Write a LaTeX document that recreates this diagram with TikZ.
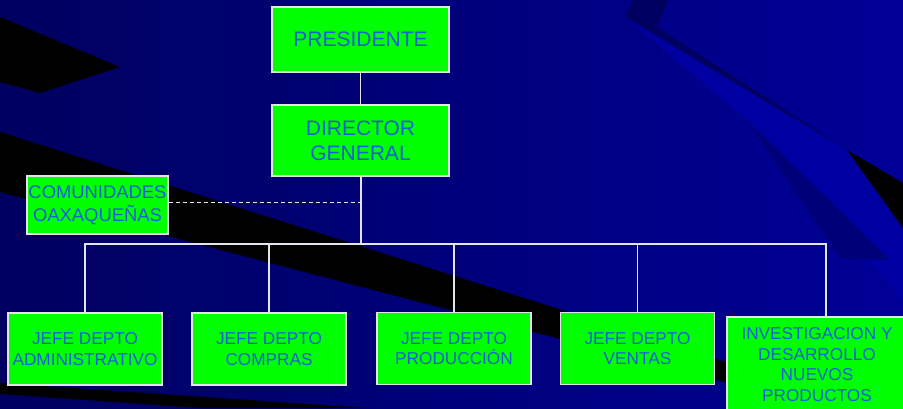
\documentclass[tikz,border=0pt]{standalone}
\usepackage{fontspec}
\setmainfont{Liberation Sans}
\definecolor{bgL}{RGB}{0,0,96}
\definecolor{bgR}{RGB}{0,0,150}
\definecolor{beam}{RGB}{0,0,162}
\definecolor{darkstrip}{RGB}{0,0,96}
\definecolor{wedge}{RGB}{0,0,120}
\definecolor{boxgreen}{RGB}{0,255,0}
\definecolor{txt}{RGB}{25,95,215}
\definecolor{edge}{RGB}{228,228,236}
\tikzset{
  box/.style={draw=edge, line width=1.3pt, fill=boxgreen, text=txt, align=center, inner sep=0pt},
  bigbox/.style={box, font=\fontsize{21}{25}\selectfont},
  combox/.style={box, font=\fontsize{18.4}{23}\selectfont},
  smallbox/.style={box, font=\fontsize{17.2}{20.5}\selectfont, minimum width=154pt, minimum height=72pt},
  conn/.style={draw=edge, line width=1.2pt},
}
\begin{document}
\begin{tikzpicture}[x=1pt,y=-1pt]
\useasboundingbox (0,0) rectangle (903,408);
\clip (0,0) rectangle (903,408);
% background
\fill[left color=bgL, right color=bgR] (0,0) rectangle (903,408);
\fill[beam] (625,17) -- (847,150) -- (903,230) -- (903,300) -- (747,120) -- cycle;
\fill[wedge] (747,120) -- (890,260) -- (840,258) -- cycle;
\fill[darkstrip] (625,17) -- (633,0) -- (668,0) -- (657,27) -- (847,150) -- cycle;
\fill[black] (847,150) -- (903,183) -- (903,228) -- cycle;
\fill[black] (0,17) -- (120,67) -- (40,93) -- (0,82) -- cycle;
\fill[black] (0,132) -- (903,418) -- (903,429) -- (0,192) -- cycle;
\fill[black] (0,383) -- (367,408) -- (200,408) -- (0,394) -- cycle;
% nodes
\node[bigbox, minimum width=177pt, minimum height=65pt] (pres) at (360.5,39.5) {PRESIDENTE};
\node[bigbox, minimum width=177pt, minimum height=71pt] (dir) at (360.5,140.5) {DIRECTOR\\GENERAL};
\node[combox, minimum width=141pt, minimum height=58pt] (com) at (97.5,205) {COMUNIDADES\\OAXAQUEÑAS};
\node[smallbox] (adm) at (85,349) {JEFE DEPTO\\ADMINISTRATIVO};
\node[smallbox] (cmp) at (269,349) {JEFE DEPTO\\COMPRAS};
\node[smallbox] (prd) at (454,348.5) {JEFE DEPTO\\PRODUCCIÓN};
\node[smallbox] (vnt) at (637.5,348.5) {JEFE DEPTO\\VENTAS};
\node[smallbox, minimum width=180pt, minimum height=95pt] (inv) at (817,364.5) {INVESTIGACION Y\\DESARROLLO\\NUEVOS\\PRODUCTOS};
% connectors
\coordinate (bus) at (361,244);
\coordinate (busR) at (826,244);
\coordinate (dj) at (361,202);
\draw[conn] (pres.south) -- (dir.north);
\draw[conn, line width=2pt] (dir.south) -- (dir.south |- bus);
\draw[conn] (adm.north) |- (busR) -- (busR |- inv.north);
\draw[conn] (cmp.north) -- (cmp.north |- bus);
\draw[conn] (prd.north) -- (prd.north |- bus);
\draw[conn] (vnt.north) -- (vnt.north |- bus);
\draw[conn, line width=0.9pt, dashed, dash pattern=on 4pt off 3pt] (com.east |- dj) -- (dj);
\end{tikzpicture}
\end{document}
